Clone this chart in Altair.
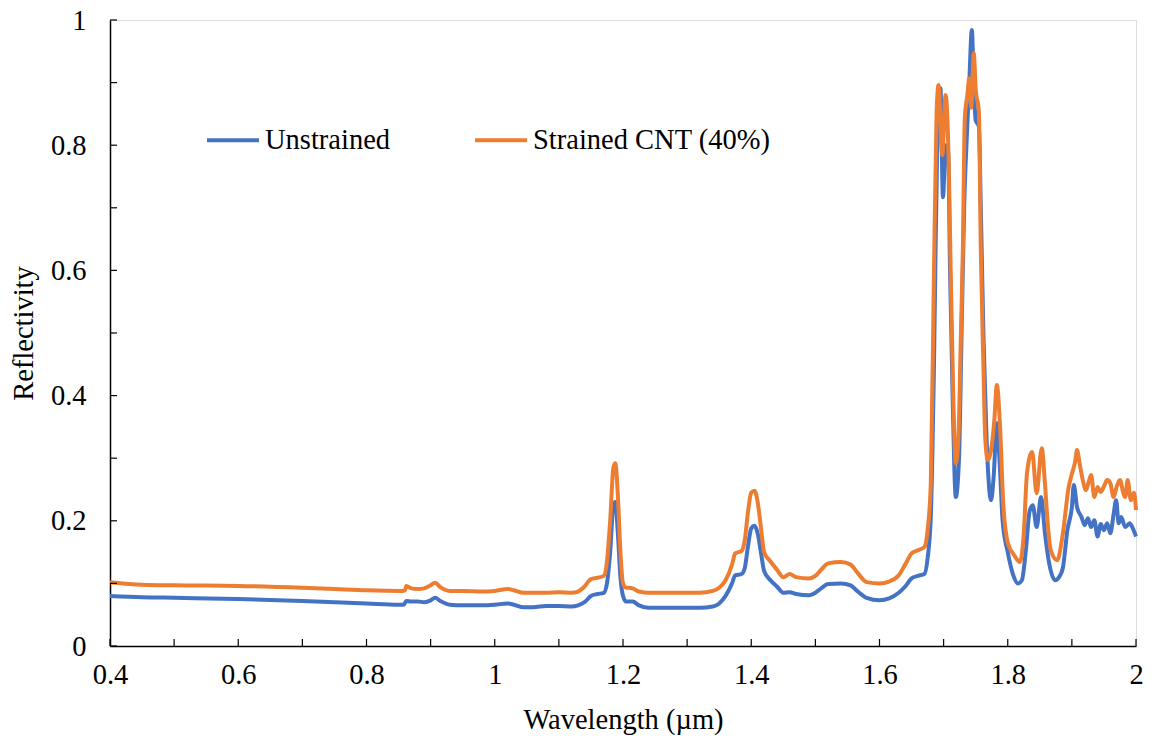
import altair as alt
import pandas as pd

# Wavelength (µm) and reflectivity
unstrained_wl = [0.40, 0.45, 0.50, 0.60, 0.70, 0.75, 0.80, 0.85, 0.858, 0.862, 0.87, 0.88, 0.89, 0.90, 0.907, 0.915,
                 0.93, 0.95, 0.98, 1.00, 1.02, 1.03, 1.045, 1.06, 1.08, 1.10, 1.12, 1.13, 1.14, 1.15, 1.16, 1.17,
                 1.175, 1.18, 1.185, 1.188, 1.192, 1.196, 1.20, 1.205, 1.21, 1.215, 1.225, 1.24, 1.28, 1.32, 1.34,
                 1.35, 1.36, 1.37, 1.375, 1.385, 1.39, 1.395, 1.40, 1.405, 1.41, 1.415, 1.42, 1.43, 1.44, 1.45,
                 1.46, 1.47, 1.49, 1.50, 1.51, 1.52, 1.54, 1.555, 1.565, 1.58, 1.60, 1.615, 1.63, 1.64, 1.65, 1.66,
                 1.67, 1.675, 1.68, 1.685, 1.69, 1.695, 1.699, 1.703, 1.707, 1.710, 1.714, 1.719, 1.724, 1.728,
                 1.732, 1.736, 1.740, 1.744, 1.747, 1.750, 1.755, 1.758, 1.762, 1.767, 1.774, 1.778, 1.783,
                 1.787, 1.792, 1.80, 1.808, 1.816, 1.822, 1.828, 1.834, 1.839, 1.845, 1.852, 1.858, 1.865, 1.874,
                 1.880, 1.886, 1.893, 1.900, 1.903, 1.908, 1.915, 1.92, 1.925, 1.93, 1.935, 1.94, 1.945, 1.95,
                 1.955, 1.96, 1.965, 1.969, 1.973, 1.977, 1.983, 1.99, 1.995, 2.00]
unstrained_r = [0.080, 0.078, 0.077, 0.075, 0.072, 0.070, 0.068, 0.066, 0.066, 0.072, 0.071, 0.071, 0.070, 0.073,
                0.077, 0.072, 0.066, 0.065, 0.065, 0.066, 0.068, 0.066, 0.062, 0.062, 0.064, 0.064, 0.063, 0.065,
                0.070, 0.080, 0.083, 0.085, 0.100, 0.150, 0.225, 0.230, 0.180, 0.110, 0.080, 0.071, 0.071, 0.071,
                0.065, 0.061, 0.061, 0.061, 0.063, 0.068, 0.080, 0.100, 0.113, 0.115, 0.125, 0.160, 0.188, 0.192,
                0.180, 0.150, 0.120, 0.105, 0.095, 0.085, 0.086, 0.083, 0.081, 0.085, 0.093, 0.099, 0.100, 0.097,
                0.088, 0.077, 0.073, 0.076, 0.085, 0.095, 0.108, 0.112, 0.115, 0.140, 0.206, 0.450, 0.800, 0.891,
                0.717, 0.800, 0.789, 0.600, 0.400, 0.238, 0.300, 0.500, 0.700, 0.810, 0.900, 0.984, 0.900, 0.840,
                0.830, 0.700, 0.500, 0.330, 0.233, 0.270, 0.356, 0.300, 0.200, 0.150, 0.115, 0.100, 0.105, 0.150,
                0.215, 0.225, 0.190, 0.238, 0.180, 0.130, 0.105, 0.110, 0.125, 0.185, 0.222, 0.257, 0.222, 0.206,
                0.193, 0.204, 0.190, 0.201, 0.175, 0.195, 0.185, 0.196, 0.180, 0.210, 0.233, 0.196, 0.206, 0.190,
                0.196, 0.188, 0.175]

strained_wl = [0.40, 0.45, 0.50, 0.60, 0.70, 0.75, 0.80, 0.855, 0.860, 0.862, 0.87, 0.88, 0.89, 0.90, 0.907, 0.915,
               0.93, 0.95, 0.98, 1.00, 1.02, 1.03, 1.045, 1.06, 1.08, 1.10, 1.12, 1.13, 1.14, 1.15, 1.16, 1.17,
               1.175, 1.18, 1.185, 1.188, 1.192, 1.196, 1.20, 1.205, 1.21, 1.215, 1.225, 1.24, 1.28, 1.32, 1.34,
               1.35, 1.36, 1.37, 1.375, 1.385, 1.39, 1.395, 1.40, 1.405, 1.41, 1.415, 1.42, 1.43, 1.44, 1.45,
               1.46, 1.47, 1.49, 1.50, 1.51, 1.52, 1.54, 1.555, 1.565, 1.58, 1.60, 1.615, 1.63, 1.64, 1.65, 1.66,
               1.67, 1.675, 1.68, 1.685, 1.689, 1.692, 1.698, 1.703, 1.708, 1.711, 1.715, 1.719, 1.723, 1.727,
               1.730, 1.733, 1.737, 1.740, 1.743, 1.747, 1.750, 1.755, 1.758, 1.762, 1.765, 1.769, 1.775, 1.779,
               1.783, 1.788, 1.793, 1.80, 1.81, 1.819, 1.825, 1.830, 1.838, 1.845, 1.853, 1.858, 1.862, 1.867,
               1.877, 1.886, 1.895, 1.900, 1.905, 1.908, 1.912, 1.917, 1.922, 1.927, 1.93, 1.935, 1.94, 1.945,
               1.95, 1.955, 1.96, 1.965, 1.97, 1.975, 1.98, 1.983, 1.987, 1.992, 1.997, 2.00]
strained_r = [0.102, 0.098, 0.097, 0.096, 0.093, 0.091, 0.089, 0.088, 0.089, 0.096, 0.092, 0.091, 0.092, 0.097,
              0.101, 0.094, 0.088, 0.088, 0.087, 0.088, 0.091, 0.089, 0.085, 0.085, 0.085, 0.086, 0.085, 0.087,
              0.095, 0.107, 0.109, 0.112, 0.135, 0.200, 0.285, 0.292, 0.240, 0.150, 0.100, 0.093, 0.093, 0.092,
              0.087, 0.085, 0.085, 0.085, 0.088, 0.093, 0.105, 0.130, 0.148, 0.152, 0.170, 0.215, 0.245, 0.248,
              0.230, 0.190, 0.150, 0.135, 0.122, 0.110, 0.115, 0.110, 0.108, 0.112, 0.123, 0.132, 0.134, 0.130,
              0.118, 0.102, 0.100, 0.103, 0.113, 0.130, 0.148, 0.153, 0.158, 0.185, 0.260, 0.600, 0.850, 0.896,
              0.784, 0.880, 0.768, 0.600, 0.400, 0.292, 0.330, 0.500, 0.633, 0.843, 0.880, 0.907, 0.860, 0.947,
              0.890, 0.853, 0.630, 0.450, 0.330, 0.297, 0.320, 0.360, 0.417, 0.350, 0.228, 0.165, 0.145, 0.134,
              0.180, 0.276, 0.310, 0.244, 0.316, 0.260, 0.200, 0.153, 0.137, 0.180, 0.254, 0.275, 0.294, 0.313,
              0.292, 0.265, 0.249, 0.265, 0.273, 0.238, 0.254, 0.246, 0.255, 0.265, 0.260, 0.238, 0.255, 0.265,
              0.245, 0.238, 0.265, 0.233, 0.245, 0.217]

series_names = ["Unstrained", "Strained CNT (40%)"]
series_colors = ["#4472C4", "#ED7D31"]
x_ticks = [round(0.4 + 0.1 * i, 1) for i in range(17)]
y_ticks = [round(0.1 * i, 1) for i in range(11)]

FONT = "Times New Roman, Liberation Serif, serif"
FS = 28.5
W, H = 1026, 626

df = pd.concat([
    pd.DataFrame({"wl": unstrained_wl, "r": unstrained_r, "series": series_names[0]}),
    pd.DataFrame({"wl": strained_wl, "r": strained_r, "series": series_names[1]}),
])

xscale = alt.Scale(domain=[0.4, 2.0], nice=False, zero=False)
yscale = alt.Scale(domain=[0, 1], nice=False)
color = alt.Color("series:N", scale=alt.Scale(domain=series_names, range=series_colors),
                  legend=alt.Legend(orient="none", legendX=95, legendY=92, direction="horizontal",
                                    title=None, symbolType="stroke", symbolStrokeWidth=4,
                                    symbolSize=2700, labelFont=FONT, labelFontSize=FS,
                                    labelColor="black", columnPadding=76, labelLimit=400,
                                    labelOffset=4))

lbl = "round(datum.value*10)%2==0 ? format(datum.value,'~g') : ''"
xaxis = alt.Axis(values=x_ticks, ticks=False, tickSize=0, domainColor="black", domainWidth=1.5,
                 labelExpr=lbl, labelFont=FONT, labelFontSize=FS, labelColor="black", labelPadding=14,
                 labelOverlap=False, labelFlush=False, grid=False,
                 title="Wavelength (µm)", titleFont=FONT, titleFontSize=FS, titleFontWeight="normal",
                 titleColor="black", titlePadding=17)
yaxis = alt.Axis(values=y_ticks, ticks=False, tickSize=0, domainColor="black", domainWidth=1.5,
                 labelExpr=lbl, labelFont=FONT, labelFontSize=FS, labelColor="black", labelPadding=24,
                 labelOverlap=False, labelFlush=False, grid=False,
                 title="Reflectivity", titleFont=FONT, titleFontSize=FS, titleFontWeight="normal",
                 titleColor="black", titlePadding=12)

base = alt.Chart(df)
blue = base.transform_filter(alt.datum.series == series_names[0]).mark_line(
    strokeWidth=4, interpolate="monotone").encode(
    x=alt.X("wl:Q", scale=xscale, axis=xaxis),
    y=alt.Y("r:Q", scale=yscale, axis=yaxis),
    color=color,
    order="wl:Q",
)
orange = base.transform_filter(alt.datum.series == series_names[1]).mark_line(
    strokeWidth=4, interpolate="monotone").encode(
    x=alt.X("wl:Q", scale=xscale),
    y=alt.Y("r:Q", scale=yscale),
    color=color,
    order="wl:Q",
)

yt = alt.Chart(pd.DataFrame({"v": y_ticks})).mark_rule(color="black", strokeWidth=1.2).encode(
    y=alt.Y("v:Q", scale=yscale), x=alt.value(0), x2=alt.value(7))
xt = alt.Chart(pd.DataFrame({"v": x_ticks})).mark_rule(color="black", strokeWidth=1.2).encode(
    x=alt.X("v:Q", scale=xscale), y=alt.value(H), y2=alt.value(H - 7))

chart = alt.layer(blue, orange, yt, xt).properties(
    width=W, height=H,
    autosize=alt.AutoSizeParams(type="none"),
    padding={"left": 110, "top": 20, "right": 15, "bottom": 97},
).configure_view(stroke=None).configure(background="white")

chart.save("out.html", embed_options={"renderer": "svg", "actions": False})
